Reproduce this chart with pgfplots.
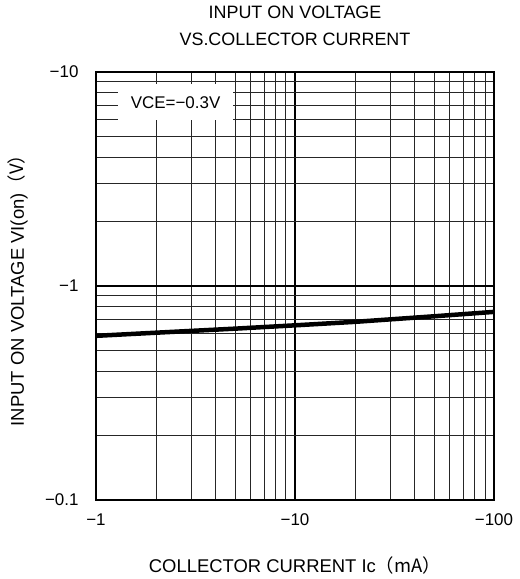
\documentclass[border=0pt]{standalone}
\usepackage{fontspec}
\setmainfont{Liberation Sans}
\newfontfamily\cjk{Noto Sans CJK JP}
\usepackage{pgfplots}
\pgfplotsset{compat=1.18}
\usetikzlibrary{calc}

\begin{document}
\begin{tikzpicture}
\begin{loglogaxis}[
    name=ax,
    scale only axis,
    width=398bp, height=428bp,
    xmin=1, xmax=100,
    ymin=0.1, ymax=10,
    xtick={1,10,100}, xticklabels={−1,−10,−100},
    ytick={0.1,1,10}, yticklabels={−0.1,−1,−10},
    ticklabel style={font=\fontsize{17}{20}\selectfont},
    tick style={draw=none},
    xticklabel style={yshift=-10bp},
    yticklabel style={xshift=-14bp},
    grid=both,
    major grid style={black, line width=1.3bp},
    minor grid style={black!85, line width=0.8bp},
    axis line style={line width=2bp},
    title={INPUT ON VOLTAGE\\VS.COLLECTOR CURRENT},
    title style={align=center, font=\fontsize{18}{27}\selectfont,
      at={(rel axis cs:0.5,1)}, anchor=center, yshift=40bp},
    xlabel={COLLECTOR CURRENT Ic{\cjk （mA）}},
    ylabel={INPUT ON VOLTAGE VI(on){\cjk （V）}},
    label style={font=\fontsize{18.5}{20}\selectfont},
    xlabel style={at={(rel axis cs:0.5,0)}, anchor=center, yshift=-65bp},
    ylabel style={at={(rel axis cs:0,0.5)}, anchor=center, yshift=78bp},
]
\addplot[black, line width=4.5bp] coordinates {
(1,0.585) (2,0.605) (5,0.632) (10,0.655) (20,0.680) (50,0.722) (100,0.757)
};
\node[fill=white, anchor=north west, inner sep=0pt, minimum width=115bp,
  minimum height=36bp, font=\fontsize{17}{20}\selectfont]
  at (axis description cs:0.055,0.972) {VCE=−0.3V};
\end{loglogaxis}
\useasboundingbox ($(ax.south west)+(-96bp,-79bp)$) rectangle ($(ax.north east)+(25bp,72bp)$);
\end{tikzpicture}
\end{document}
